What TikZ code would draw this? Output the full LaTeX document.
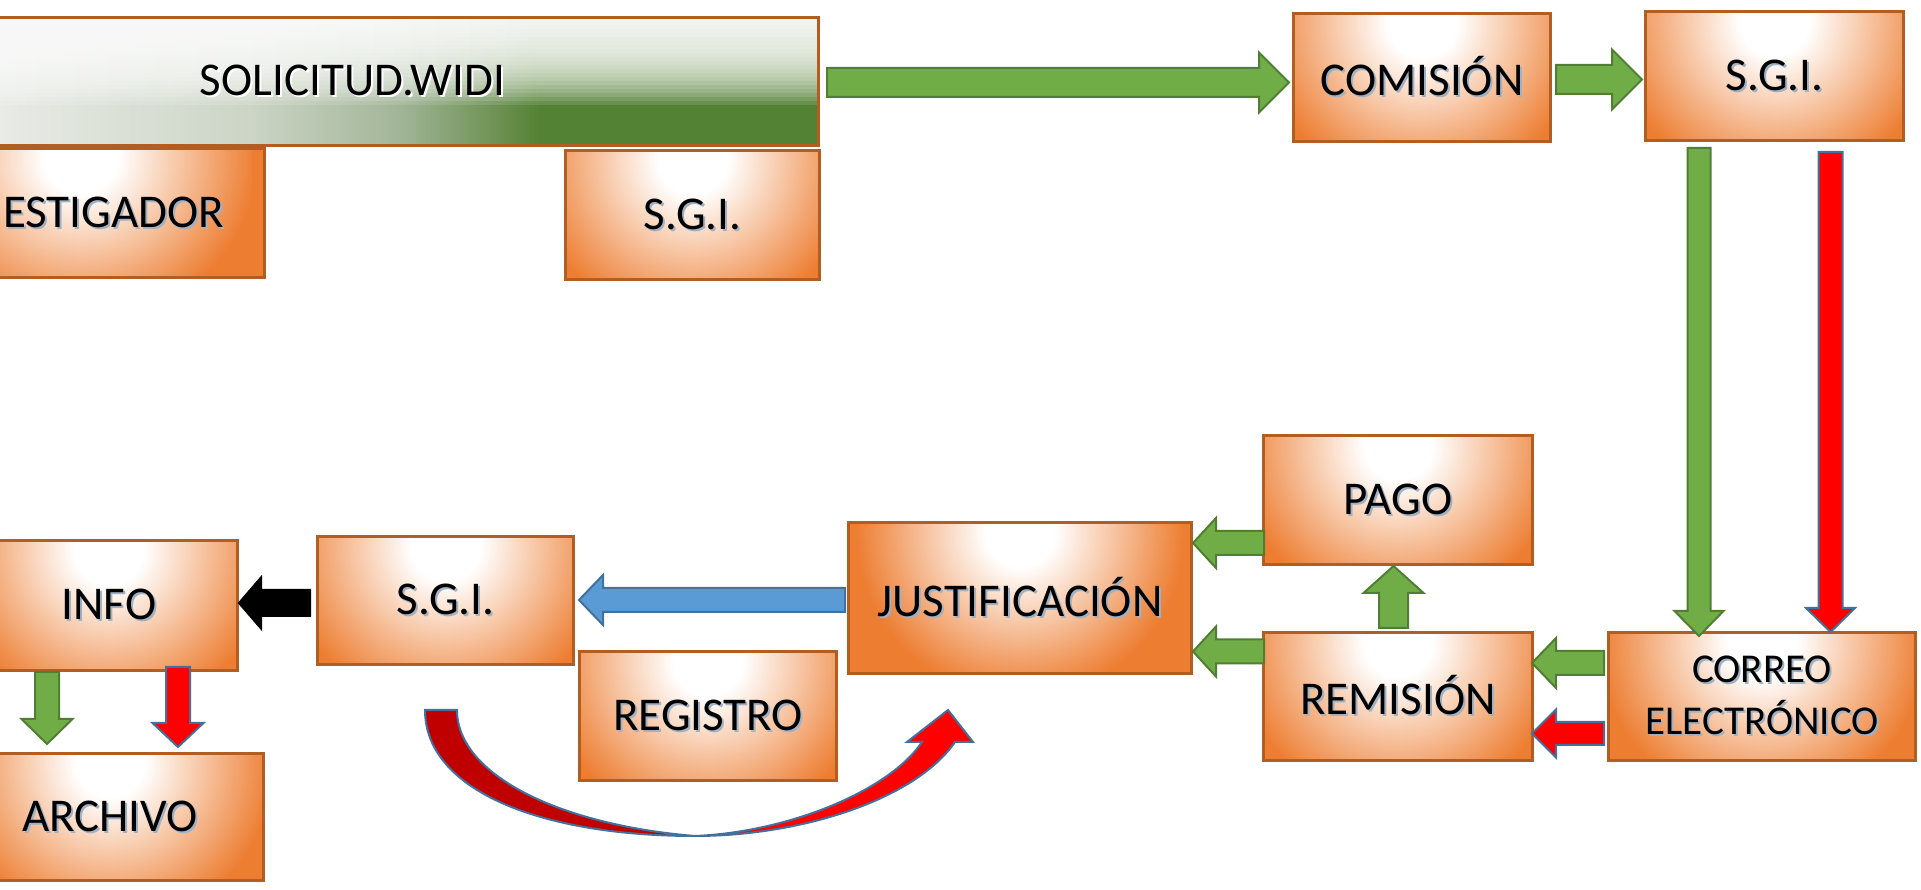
\documentclass[tikz,border=0pt]{standalone}
\usepackage{fontspec}
\setmainfont{Carlito}
\usetikzlibrary{calc}

\definecolor{naranja}{RGB}{237,125,49}
\definecolor{bordenaranja}{RGB}{178,94,34}
\definecolor{verdeflecha}{RGB}{112,173,71}
\definecolor{verdeborde}{RGB}{80,126,50}
\definecolor{azulflecha}{RGB}{91,155,213}
\definecolor{azulborde}{RGB}{65,113,156}
\definecolor{rojooscuro}{RGB}{192,0,0}
\definecolor{verdeoscuro}{RGB}{84,130,53}
\definecolor{sombrac}{RGB}{160,178,196}
\definecolor{gris1}{RGB}{232,235,230}
\definecolor{gris2}{RGB}{204,213,198}
\definecolor{gris3}{RGB}{162,181,152}
\definecolor{verde4}{RGB}{106,144,80}

\pgfdeclareradialshading{brillo}{\pgfpoint{0bp}{0bp}}{color(0bp)=(white); color(5bp)=(white); color(24bp)=(naranja); color(50bp)=(naranja)}
\pgfdeclarehorizontalshading{degradado}{100bp}{color(0bp)=(gris1); color(31bp)=(gris1); color(44.5bp)=(gris2); color(52.5bp)=(gris3); color(58bp)=(verde4); color(60bp)=(verdeoscuro); color(100bp)=(verdeoscuro)}

\newcommand{\sombra}[1]{\leavevmode\rlap{\hspace{2pt}\raisebox{-2pt}{\textcolor{sombrac}{#1}}}#1}

\tikzset{every picture/.style={line width=0.75pt}}
\tikzset{
  caja/.style={draw=bordenaranja, line width=3pt, fill=naranja, inner sep=0pt,
    path picture={\shade[shading=brillo] ($(path picture bounding box.north)+(-171,161)$) rectangle ++(342,-342);},
    font=\fontsize{47}{56}\selectfont},
  aw/.store in=\aw, ah/.store in=\ah, al/.store in=\al,
  aw=12pt, ah=25pt, al=24pt,
  flecha/.style={line width=2pt, line join=miter, to path={
    ($(\tikztostart)!\aw!90:(\tikztotarget)$)
    -- ($(\tikztotarget)!\al!(\tikztostart)!\aw!-90:(\tikztostart)$)
    -- ($(\tikztotarget)!\al!(\tikztostart)!\ah!-90:(\tikztostart)$)
    -- (\tikztotarget)
    -- ($(\tikztotarget)!\al!(\tikztostart)!\ah!90:(\tikztostart)$)
    -- ($(\tikztotarget)!\al!(\tikztostart)!\aw!90:(\tikztostart)$)
    -- ($(\tikztostart)!\aw!-90:(\tikztotarget)$) -- cycle}},
  verde/.style={flecha, fill=verdeflecha, draw=verdeborde},
  roja/.style={flecha, fill=red, draw=azulborde},
  azul/.style={flecha, fill=azulflecha, draw=azulborde},
  negra/.style={flecha, fill=black, draw=black}
}

\begin{document}
\begin{tikzpicture}[x=1pt,y=1pt]
\useasboundingbox (0,0) rectangle (1921,890);

%Shape: Rectangle
\node[draw=bordenaranja, line width=3pt, inner sep=0pt, shade, shading=degradado,
  minimum width=932, minimum height=128,
  path picture={\foreach \i in {1,...,22}
    \fill[white, fill opacity=0.12] (path picture bounding box.north west) rectangle ($(path picture bounding box.north east)+(0,-4*\i)$);},
  font=\fontsize{47}{56}\selectfont] (sol) at (352.5,808.5) {{\colorlet{sombrac}{white}\sombra{SOLICITUD.WIDI}}};
%Shape: Rectangle
\node[caja, minimum width=367, minimum height=129, text width=286, align=right] (inv) at (81,677) {\sombra{ESTIGADOR}};
%Shape: Rectangle
\node[caja, minimum width=254, minimum height=129] (sgia) at (692.5,675) {\sombra{S.G.I.}};
%Shape: Rectangle
\node[caja, minimum width=257, minimum height=128] (com) at (1422,812.5) {\sombra{COMISIÓN}};
%Shape: Rectangle
\node[caja, minimum width=258, minimum height=129] (sgib) at (1774.5,814) {\sombra{S.G.I.}};
%Shape: Rectangle
\node[caja, minimum width=269, minimum height=129] (pago) at (1398,390) {\sombra{PAGO}};
%Shape: Rectangle
\node[caja, minimum width=269, minimum height=128] (rem) at (1398,193.5) {\sombra{REMISIÓN}};
%Shape: Rectangle
\node[caja, minimum width=307, minimum height=128, align=center,
  font=\fontsize{41}{51.5}\selectfont] (cor) at (1762,193.5) {\sombra{CORREO}\\\sombra{ELECTRÓNICO}};
%Shape: Rectangle
\node[caja, minimum width=343, minimum height=151] (just) at (1020,292) {\sombra{JUSTIFICACIÓN}};
%Shape: Rectangle
\node[caja, minimum width=256, minimum height=128] (sgic) at (445.5,289.5) {\sombra{S.G.I.}};
%Shape: Rectangle
\node[caja, minimum width=257, minimum height=129] (reg) at (708,174) {\sombra{REGISTRO}};
%Shape: Rectangle
\node[caja, minimum width=257, minimum height=130] (info) at (109,284.5) {\sombra{INFO}};
%Shape: Rectangle
\node[caja, minimum width=307, minimum height=127] (arch) at (110,73) {\sombra{ARCHIVO}};

%Straight Lines
\draw[verde, aw=14.5pt, ah=30pt, al=30pt] ($(sol.east)+(7,-1)$) to ($(com.west)+(-3,-5)$);
%Straight Lines
\draw[verde, aw=14.5pt, ah=30pt, al=30pt] ($(com.east)+(4,-2)$) to ($(sgib.west)+(-2,-3.5)$);
%Straight Lines
\draw[verde, aw=11.5pt, ah=24.5pt, al=25pt] ($(sgib.south)+(-75.5,-6)$) to ($(cor.north)+(-63,-5)$);
%Straight Lines
\draw[roja, aw=12pt, ah=24.5pt, al=24pt] ($(sgib.south)+(56,-10)$) to ($(cor.north)+(68.5,-1)$);
%Straight Lines
\draw[verde, aw=14.5pt, ah=30pt, al=27pt] ($(rem.north)+(-4.5,3)$) to ($(pago.south)+(-4.5,0)$);
%Straight Lines
\draw[verde, aw=12pt, ah=25pt, al=24pt] ($(cor.west)+(-3,33.5)$) to ($(rem.east)+(-2,33.5)$);
%Straight Lines
\draw[roja, aw=11.5pt, ah=24pt, al=24pt] ($(cor.west)+(-3,-37)$) to ($(rem.east)+(-2,-37)$);
%Straight Lines
\draw[verde, aw=12pt, ah=25pt, al=23pt] ($(pago.west)+(2,-43)$) to ($(just.east)+(0,55)$);
%Straight Lines
\draw[verde, aw=12pt, ah=25pt, al=23pt] ($(rem.west)+(2,45)$) to ($(just.east)+(0,-53.5)$);
%Straight Lines
\draw[azul, aw=12pt, ah=25pt, al=24pt] ($(just.west)+(-2,-2)$) to ($(sgic.east)+(4,0.5)$);
%Straight Lines
\draw[negra, aw=13pt, ah=25.5pt, al=22pt] ($(sgic.west)+(-6,-2.5)$) to ($(info.east)+(0,2.5)$);
%Straight Lines
\draw[verde, aw=12pt, ah=25.5pt, al=25pt] ($(info.south)+(-62,0)$) to ($(arch.north)+(-63,8)$);
%Straight Lines
\draw[roja, aw=12pt, ah=25.5pt, al=24pt] ($(info.south)+(69,5)$) to ($(arch.north)+(68,5)$);

%Curved Arrow
\filldraw[fill=rojooscuro, draw=azulborde, line width=2pt] (425,180) -- (457,180) .. controls (457,115) and (560,65) .. (695,54) .. controls (540,54) and (425,100) .. (425,180) -- cycle;
\filldraw[fill=red, draw=azulborde, line width=2pt, line join=miter] (695,54) .. controls (800,54) and (915,90) .. (955,148) -- (973,148) -- (948,180) -- (907,148) -- (922,148) .. controls (890,100) and (790,58) .. (695,54) -- cycle;

\end{tikzpicture}
\end{document}
